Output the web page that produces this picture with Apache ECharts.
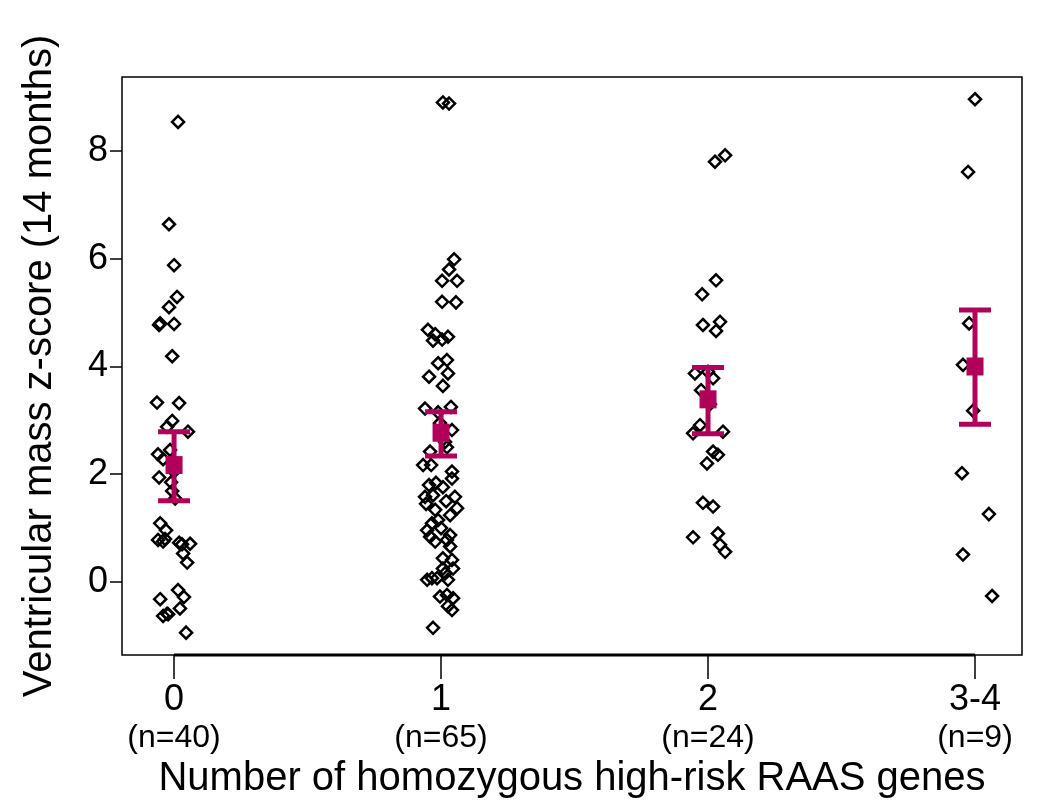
<!DOCTYPE html>
<html>
<head>
<meta charset="utf-8">
<script src="https://cdn.jsdelivr.net/npm/echarts@6/dist/echarts.min.js"></script>
<style>html,body{margin:0;padding:0;background:#fff}#c{width:1050px;height:806px}</style>
</head>
<body>
<div id="c"></div>
<script>
// Categories and group sizes
const categories = ['0', '1', '2', '3-4'];
const groupSizes = ['(n=40)', '(n=65)', '(n=24)', '(n=9)'];
const yTicks = [0, 2, 4, 6, 8];
// Individual points: [horizontal jitter (category units), z-score]
const group0 = [[0.015,8.54],[-0.019,6.64],[0,5.88],[0.011,5.29],[-0.019,5.10],[-0.056,4.77],[0,4.79],[-0.007,4.19],
 [-0.064,3.33],[0.019,3.32],[-0.007,2.99],[-0.026,2.88],[0.052,2.79],[-0.06,2.37],[-0.041,2.28],[-0.056,1.94],
 [-0.007,1.69],[-0.052,1.09],[-0.03,0.96],[-0.06,0.78],[-0.041,0.75],[0.019,0.73],[0.06,0.71],[0.034,0.53],
 [0.049,0.36],[0.015,-0.15],[0.037,-0.28],[-0.052,-0.32],[0.022,-0.49],[-0.041,-0.63],[-0.026,-0.59],[0.045,-0.94],
 [-0.015,2.45],[0,2.05],[-0.011,1.85],[0.004,1.55],[-0.034,0.80],[0.03,0.70],[-0.022,-0.60],[-0.052,4.80]];
const group1 = [[0.007,8.90],[0.03,8.88],[0.049,5.99],[0.03,5.80],[0.004,5.59],[0.06,5.59],[0.004,5.20],[0.056,5.19],
 [-0.049,4.68],[-0.022,4.60],[0.004,4.50],[-0.03,4.48],[0.026,4.55],[-0.011,4.06],[0.022,4.12],[0.026,3.87],
 [-0.045,3.81],[0.007,3.64],[-0.06,3.22],[0.037,3.25],[-0.011,3.15],[0.041,2.82],[0.022,2.50],[-0.041,2.42],
 [-0.067,2.17],[-0.037,2.17],[0.041,2.05],[0.041,1.92],[-0.045,1.80],[0.007,1.76],[-0.019,1.84],[-0.06,1.58],
 [-0.03,1.61],[0.052,1.58],[-0.022,1.34],[0.034,1.24],[0.06,1.37],[-0.034,1.09],[-0.011,1.15],[-0.052,0.96],
 [0.034,0.87],[0.022,0.78],[-0.041,0.84],[-0.022,0.75],[0.034,0.66],[0.007,0.44],[0.041,0.41],[0.007,0.25],
 [0.045,0.25],[0.015,0.16],[-0.052,0.04],[-0.034,0.07],[-0.015,0.07],[0.026,0.04],[-0.004,-0.27],[0.022,-0.24],
 [0.045,-0.30],[0.026,-0.45],[0.041,-0.52],[-0.03,-0.85],[0.015,2.60],[-0.004,2.95],[-0.056,1.45],[0,1.00],[0.019,1.50]];
const group2 = [[0.026,7.80],[0.064,7.92],[0.03,5.60],[-0.022,5.34],[-0.019,4.77],[0.045,4.83],[0.03,4.66],[0,3.90],
 [-0.049,3.87],[0.019,3.78],[-0.026,3.56],[-0.03,2.91],[-0.056,2.76],[0.056,2.79],[0.019,2.42],[0.037,2.36],
 [-0.004,2.20],[-0.019,1.47],[0.019,1.40],[-0.056,0.83],[0.037,0.90],[0.045,0.69],[0.064,0.56],[0.007,3.30]];
const group3 = [[0,8.96],[-0.026,7.61],[-0.022,4.80],[-0.045,4.03],[-0.007,3.18],[-0.049,2.02],[0.052,1.26],[-0.045,0.51],[0.064,-0.26]];
// Group means and confidence limits
const means = [2.17, 2.77, 3.39, 4.00];
const ciLow = [1.51, 2.34, 2.75, 2.93];
const ciHigh = [2.79, 3.16, 3.98, 5.05];

const yMin = -1.355, yMax = 9.373;
const groups = [group0, group1, group2, group3];
const points = [];
groups.forEach((g, i) => g.forEach(p => points.push([i + p[0], p[1]])));
const barColor = '#b1005a';
const font = "'Liberation Sans', Arial, sans-serif";

const chart = echarts.init(document.getElementById('c'));
chart.setOption({
  animation: false,
  backgroundColor: '#fff',
  grid: { left: 122, right: 28, top: 77, bottom: 151, show: true, borderColor: '#000', borderWidth: 1.5, backgroundColor: '#fff' },
  xAxis: {
    type: 'value', min: -0.195, max: 3.176,
    axisLine: { show: false, onZero: false },
    splitLine: { show: false },
    axisTick: { show: true, customValues: [0, 1, 2, 3], length: 24, lineStyle: { color: '#000', width: 1.5 } },
    axisLabel: {
      customValues: [0, 1, 2, 3], margin: 25, fontFamily: font, color: '#000',
      formatter: v => '{a|' + categories[v] + '}\n{b|' + groupSizes[v] + '}',
      rich: { a: { fontSize: 36, lineHeight: 40, fontFamily: font, color: '#000' },
              b: { fontSize: 32, lineHeight: 36, fontFamily: font, color: '#000' } }
    },
    name: 'Number of homozygous high-risk RAAS genes', nameLocation: 'middle', nameGap: 104,
    nameTextStyle: { fontSize: 40, fontFamily: font, color: '#000' }
  },
  yAxis: {
    type: 'value', min: yMin, max: yMax,
    axisLine: { show: false, onZero: false },
    splitLine: { show: false },
    axisTick: { show: true, customValues: yTicks, length: 12, lineStyle: { color: '#000', width: 1.5 } },
    axisLabel: { customValues: yTicks, margin: 14, fontSize: 36, fontFamily: font, color: '#000' },
    name: 'Ventricular mass z-score (14 months)', nameLocation: 'middle', nameGap: 62,
    nameTextStyle: { fontSize: 40, fontFamily: font, color: '#000' }
  },
  series: [
    {
      type: 'line', data: [[0, yMin], [3, yMin]], symbol: 'none', clip: false,
      lineStyle: { color: '#000', width: 3 }, z: 1
    },
    {
      type: 'scatter', data: points, symbol: 'diamond', symbolSize: 12,
      itemStyle: { color: 'rgba(0,0,0,0)', borderColor: '#000', borderWidth: 2.5, opacity: 1 }, z: 2
    },
    {
      type: 'custom', z: 3,
      data: means.map((m, i) => [i, ciLow[i], ciHigh[i]]),
      renderItem: (params, api) => {
        const x = api.coord([api.value(0), 0])[0];
        const lo = api.coord([0, api.value(1)])[1];
        const hi = api.coord([0, api.value(2)])[1];
        const hw = 16;
        const st = { stroke: barColor, lineWidth: 5 };
        return { type: 'group', children: [
          { type: 'line', shape: { x1: x, y1: lo, x2: x, y2: hi }, style: st },
          { type: 'line', shape: { x1: x - hw, y1: lo, x2: x + hw, y2: lo }, style: st },
          { type: 'line', shape: { x1: x - hw, y1: hi, x2: x + hw, y2: hi }, style: st }
        ]};
      }
    },
    {
      type: 'scatter', data: means.map((m, i) => [i, m]), symbol: 'rect', symbolSize: [17, 18],
      itemStyle: { color: barColor, opacity: 1 }, z: 4
    }
  ]
});
</script>
</body>
</html>
